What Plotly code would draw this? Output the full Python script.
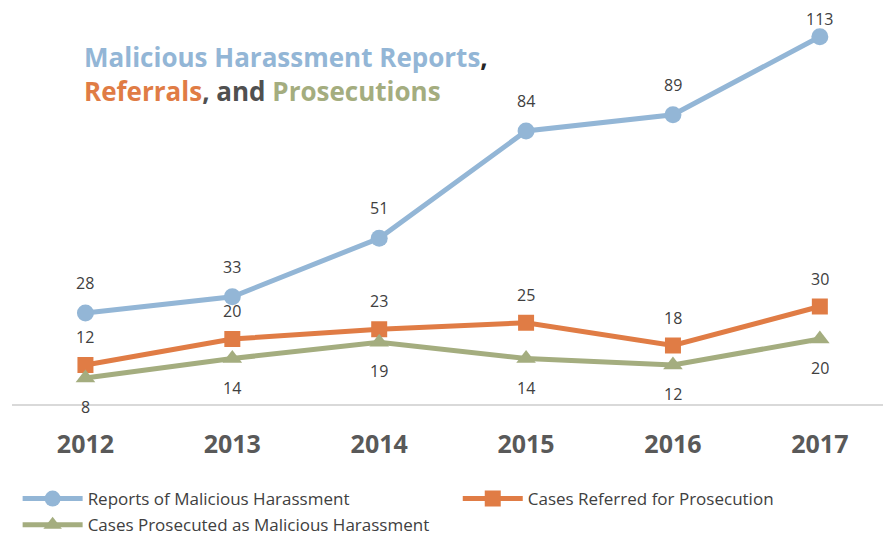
import plotly.graph_objects as go

years = ["2012", "2013", "2014", "2015", "2016", "2017"]
reports = [28, 33, 51, 84, 89, 113]
referred = [12, 20, 23, 25, 18, 30]
prosecuted = [8, 14, 19, 14, 12, 20]

BLUE = "#93b6d6"
ORANGE = "#e07c45"
GREEN = "#a4ad7f"
TEXT = "#404040"
FONT = "Open Sans, sans-serif"

Y_MAX = 120
PLOT_H = 390
TOP_M = 6

fig = go.Figure()

series = [
    ("Reports of Malicious Harassment", reports, BLUE, "circle", 17, "legend", 30),
    ("Cases Referred for Prosecution", referred, ORANGE, "square", 16, "legend3", 28),
    ("Cases Prosecuted as Malicious Harassment", prosecuted, GREEN, "triangle-up", 17, "legend2", -29),
]

for name, vals, color, symbol, size, leg, shift in series:
    fig.add_trace(go.Scatter(
        x=years, y=vals, name=name, legend=leg,
        mode="lines+markers", cliponaxis=False,
        line={"color": color, "width": 5},
        marker={"symbol": symbol, "size": size, "color": color},
    ))
    # data labels (category index on the x axis), kept inside the figure like Excel does
    for i, v in enumerate(vals):
        s = shift
        if s > 0:
            room = (Y_MAX - v) * PLOT_H / Y_MAX + TOP_M - 11
            s = min(s, room)
        fig.add_annotation(
            x=i, y=v, text=str(v), showarrow=False, yshift=s,
            font={"size": 16, "color": TEXT, "family": FONT},
        )

title = (
    f"<b><span style='color:{BLUE}'>Malicious Harassment Reports</span>"
    f"<span style='color:#262626'>,</span><br>"
    f"<span style='color:{ORANGE}'>Referrals</span>"
    f"<span style='color:#505050'>, and </span>"
    f"<span style='color:{GREEN}'>Prosecutions</span></b>"
)
fig.add_annotation(
    text=title, xref="paper", yref="paper", x=0.08, y=0.94,
    xanchor="left", yanchor="top", align="left", showarrow=False,
    font={"size": 26, "family": FONT},
)

legend_common = {
    "orientation": "h", "xref": "container", "yref": "container",
    "xanchor": "left", "yanchor": "top",
    "font": {"size": 17, "color": TEXT, "family": FONT},
    "bgcolor": "rgba(0,0,0,0)", "itemwidth": 60,
}

# page body keeps an 8px margin, so the figure is sized to fit inside it
fig.update_layout(
    width=875, height=530,
    paper_bgcolor="white", plot_bgcolor="white",
    font={"family": FONT, "color": TEXT},
    margin={"l": 4, "r": 0, "t": TOP_M, "b": 134, "autoexpand": False},
    showlegend=True,
    legend={**legend_common, "x": 0.011, "y": 0.1075},
    legend3={**legend_common, "x": 0.514, "y": 0.1075},
    legend2={**legend_common, "x": 0.011, "y": 0.058},
    xaxis={
        "type": "category", "range": [-0.5, 5.43], "showgrid": False,
        "showline": True, "linecolor": "#d9d9d9", "linewidth": 2,
        "ticks": "", "tickfont": {"size": 25, "color": "#595959", "family": FONT, "weight": "bold"},
        "ticklabelstandoff": 17,
    },
    yaxis={"range": [0, Y_MAX], "visible": False, "showgrid": False},
)

fig.write_html("out.html")
